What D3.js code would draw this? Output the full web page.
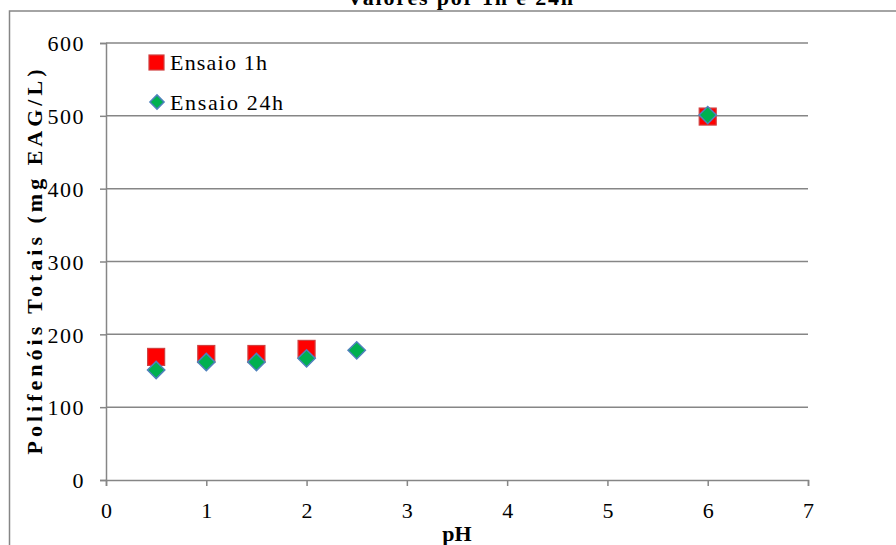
<!DOCTYPE html>
<html><head><meta charset="utf-8">
<script src="https://cdn.jsdelivr.net/npm/d3@7/dist/d3.min.js"></script>
<style>body{margin:0;background:#fff}svg{display:block}</style>
</head><body>
<script>
const xTicks = [0,1,2,3,4,5,6,7];
const yTicks = [0,100,200,300,400,500,600];
const ph1h = [0.5,1,1.5,2,6];
const val1h = [169,173,173,180,499];
const ph24h = [0.5,1,1.5,2,2.5,6];
const val24h = [151,162,162,167,178,501];
const seriesNames = ["Ensaio 1h","Ensaio 24h"];
const titleText = "Valores por 1h e 24h";
const xTitle = "pH";
const yTitle = "Polifenóis Totais (mg EAG/L)";

const FONT="Liberation Serif";
const W=896,H=545;
const svg=d3.select("body").append("svg").attr("width",W).attr("height",H)
  .attr("font-family",FONT);
const x=d3.scaleLinear().domain([0,7]).range([106,808]);
const y=d3.scaleLinear().domain([0,600]).range([480,43]);
const grey="#868686";

svg.append("rect").attr("x",9.5).attr("y",11).attr("width",W).attr("height",H)
  .attr("fill","none").attr("stroke",grey).attr("stroke-width",1.5);

svg.append("text").attr("x",460).attr("y",5).attr("text-anchor","middle").attr("font-family",FONT)
  .attr("font-size",22).attr("font-weight","bold").attr("textLength",226).attr("lengthAdjust","spacing").text(titleText);

// gridlines
svg.append("g").selectAll("line").data(yTicks.filter(d=>d>0)).join("line")
  .attr("x1",x(0)).attr("x2",x(7)).attr("y1",d=>y(d)).attr("y2",d=>y(d))
  .attr("stroke",grey).attr("stroke-width",1.5);

// axes
const yAxis=d3.axisLeft(y).tickValues(yTicks).tickSize(6).tickPadding(15).tickFormat(d3.format("d"));
const gy=svg.append("g").attr("transform",`translate(${x(0)},0)`).call(yAxis);
const xAxis=d3.axisBottom(x).tickValues(xTicks).tickSize(6).tickPadding(16).tickFormat(d3.format("d"));
const gx=svg.append("g").attr("transform",`translate(0,${y(0)})`).call(xAxis);
[gx,gy].forEach(g=>{
  g.attr("font-family",FONT).attr("font-size",22);
  g.select(".domain").attr("stroke",grey).attr("stroke-width",1.5);
  g.selectAll(".tick line").attr("stroke",grey).attr("stroke-width",1.5);
  g.selectAll(".tick text").attr("font-family",FONT).attr("font-size",22).attr("fill","#000");
});
gy.selectAll(".tick text").attr("dy","0.35em").attr("letter-spacing",1.5);

svg.append("text").attr("x",457).attr("y",541).attr("text-anchor","middle").attr("font-family",FONT)
  .attr("font-size",22).attr("font-weight","bold").text(xTitle);
svg.append("text").attr("transform",`translate(42,262) rotate(-90)`).attr("text-anchor","middle").attr("font-family",FONT)
  .attr("font-size",22).attr("font-weight","bold").attr("textLength",385).attr("lengthAdjust","spacing").text(yTitle);

// markers
const sq=17;
svg.append("g").selectAll("rect").data(ph1h.map((p,i)=>[p,val1h[i]])).join("rect")
  .attr("x",d=>x(d[0])-sq/2).attr("y",d=>y(d[1])-sq/2).attr("width",sq).attr("height",sq)
  .attr("fill","#FF0000").attr("stroke","#d04040").attr("stroke-width",1.2);
const dia=d3.symbol().type(d3.symbolSquare).size(150);
svg.append("g").selectAll("path").data(ph24h.map((p,i)=>[p,val24h[i]])).join("path")
  .attr("d",dia).attr("transform",d=>`translate(${x(d[0])},${y(d[1])}) rotate(45)`)
  .attr("fill","#00B050").attr("stroke","#4F81BD").attr("stroke-width",1.5);

// legend
svg.append("rect").attr("x",149).attr("y",55).attr("width",15).attr("height",15)
  .attr("fill","#FF0000").attr("stroke","#d04040").attr("stroke-width",1.2);
svg.append("path").attr("d",d3.symbol().type(d3.symbolSquare).size(100)).attr("transform","translate(157,102) rotate(45)")
  .attr("fill","#00B050").attr("stroke","#4F81BD").attr("stroke-width",1.5);
svg.append("text").attr("x",170).attr("y",70).attr("font-family",FONT).attr("font-size",22).attr("textLength",97).attr("lengthAdjust","spacing").text(seriesNames[0]);
svg.append("text").attr("x",170).attr("y",110).attr("font-family",FONT).attr("font-size",22).attr("textLength",113).attr("lengthAdjust","spacing").text(seriesNames[1]);
</script>
</body></html>
